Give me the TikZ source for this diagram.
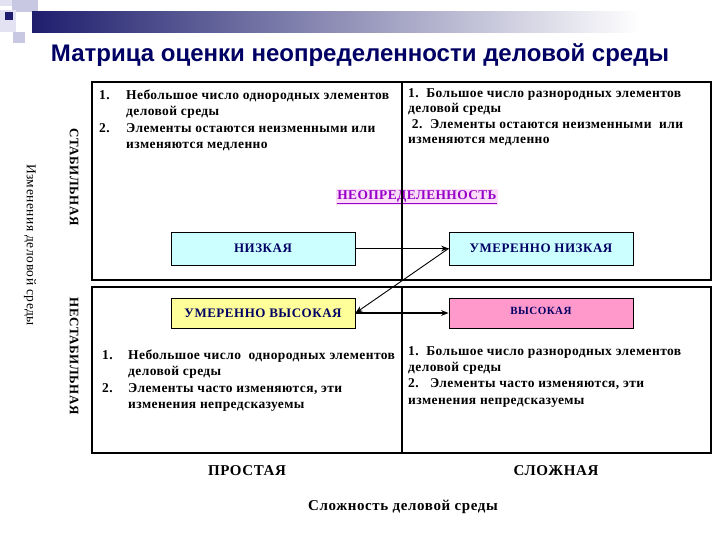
\documentclass[tikz,border=0pt]{standalone}
\usepackage{fontspec}
\setmainfont{Liberation Serif}
\newfontfamily\headfont{Liberation Sans}
\newfontfamily\listfont[LetterSpace=3]{Liberation Serif}
\newfontfamily\capsfont[LetterSpace=4]{Liberation Serif}
\usepackage{xcolor}
\definecolor{slidenavy}{RGB}{30,30,110}
\definecolor{titlenavy}{RGB}{0,0,100}
\definecolor{squarelilac}{RGB}{200,200,226}
\definecolor{squarepale}{RGB}{226,226,242}
\definecolor{lowcyan}{RGB}{204,255,255}
\definecolor{modyellow}{RGB}{255,255,153}
\definecolor{highpink}{RGB}{255,153,204}
\definecolor{labelviolet}{RGB}{150,0,200}
\definecolor{markpink}{RGB}{252,222,248}
\usepackage{tikz}
\usetikzlibrary{positioning,arrows.meta}
\tikzset{
  level/.style    ={rectangle,draw=black,line width=0.9pt,minimum width=184pt,minimum height=33pt,
                    inner sep=0pt,text=titlenavy,font=\capsfont\bfseries\fontsize{13}{15}\selectfont},
  itemtext/.style ={anchor=north west,align=left,inner sep=0pt,
                    font=\listfont\bfseries\fontsize{13.5}{16}\selectfont},
  itemnum/.style  ={anchor=north west,inner sep=0pt,font=\capsfont\bfseries\fontsize{13.5}{16}\selectfont},
  axislabel/.style={inner sep=0pt,font=\capsfont\bfseries\fontsize{13}{15}\selectfont},
  frame/.style    ={draw=black,line width=1.2pt},
  flow/.style     ={-{Stealth[length=2.6mm,width=2mm]},line width=1.5pt},
  link/.style     ={-{Stealth[length=2.6mm,width=2mm]},line width=0.9pt},
}
\begin{document}
\begin{tikzpicture}[x=1pt,y=-1pt]
  \useasboundingbox (0,0) rectangle (720,540);
  % slide header
  \fill[squarepale] (0,0) rectangle (12,6);
  \fill[squarelilac] (12,0) rectangle (38,12);
  \fill[squarepale] (0,10) rectangle (16,32);
  \fill[squarelilac] (13,32) rectangle (25,43);
  \shade[left color=slidenavy,right color=white] (32,12) rectangle (640,33);
  \fill[slidenavy] (5,12) rectangle (13,20);
  \node[inner sep=0pt,text=titlenavy,font=\headfont\bfseries\fontsize{24}{28}\selectfont] (title) at (360,55)
    {Матрица оценки неопределенности деловой среды};

  % matrix
  \node[inner sep=1.5pt,fill=markpink,text=labelviolet,font=\listfont\bfseries\fontsize{13.4}{15}\selectfont] (uncert) at (417,197)
    {\underline{НЕОПРЕДЕЛЕННОСТЬ}};
  \draw[frame] (92,82) rectangle (711,280);
  \draw[frame] (92,287) rectangle (711,453);
  \draw[frame] (402,82) -- (402,280);
  \draw[frame] (402,287) -- (402,453);

  \node[itemnum] (stnum1) at (99,90) {1.};
  \node[itemtext] (stitem1) at (126,90) {Небольшое число однородных элементов\\деловой среды};
  \node[itemnum] (stnum2) at (99,123) {2.};
  \node[itemtext] (stitem2) at (126,123) {Элементы остаются неизменными или\\изменяются медленно};
  \node[itemtext,font=\listfont\bfseries\fontsize{13.5}{15.5}\selectfont] (cxstable) at (408,88)
    {1.\ \ Большое число разнородных элементов\\деловой среды\\\ 2.\ \ Элементы остаются неизменными\ \ или\\изменяются медленно};

  \node[level,fill=lowcyan] (low) at (263,248.5) {НИЗКАЯ};
  \node[level,fill=lowcyan] (modlow) at (541,248.5) {УМЕРЕННО НИЗКАЯ};
  \node[level,fill=modyellow,minimum height=30pt] (modhigh) at (263,313) {УМЕРЕННО ВЫСОКАЯ};
  \node[level,fill=highpink,minimum height=30pt,font=\capsfont\bfseries\fontsize{11}{13}\selectfont] (high) at (541,313)
    {\raisebox{4pt}{ВЫСОКАЯ}};
  \draw[flow] (low) -- (modlow);
  \draw[link] (modlow.west) -- (modhigh.east);
  \draw[flow] (modhigh) -- (high);

  \node[itemnum] (unnum1) at (102,350) {1.};
  \node[itemtext] (unitem1) at (128,350) {Небольшое число\ \ однородных элементов\\деловой среды};
  \node[itemnum] (unnum2) at (102,383) {2.};
  \node[itemtext] (unitem2) at (128,383) {Элементы часто изменяются, эти\\изменения непредсказуемы};
  \node[itemtext,font=\listfont\bfseries\fontsize{13.5}{16.3}\selectfont] (cxunstable) at (408,346)
    {1.\ \ Большое число разнородных элементов\\деловой среды\\2.\ \ \ Элементы часто изменяются, эти\\изменения непредсказуемы};

  % axes
  \node[axislabel,rotate=-90] (stable) at (74,177) {СТАБИЛЬНАЯ};
  \node[axislabel,rotate=-90] (unstable) at (74,356) {НЕСТАБИЛЬНАЯ};
  \node[axislabel,rotate=-90,font=\capsfont\fontsize{13.5}{15}\selectfont] (yaxis) at (30,245) {Изменения деловой среды};
  \node[axislabel,font=\capsfont\bfseries\fontsize{15}{17}\selectfont] (simple) at (247,471) {ПРОСТАЯ};
  \node[axislabel,font=\capsfont\bfseries\fontsize{15}{17}\selectfont] (complex) at (556,471) {СЛОЖНАЯ};
  \node[axislabel,font=\capsfont\bfseries\fontsize{15}{17}\selectfont] (xaxis) at (403,507) {Сложность деловой среды};
\end{tikzpicture}
\end{document}
